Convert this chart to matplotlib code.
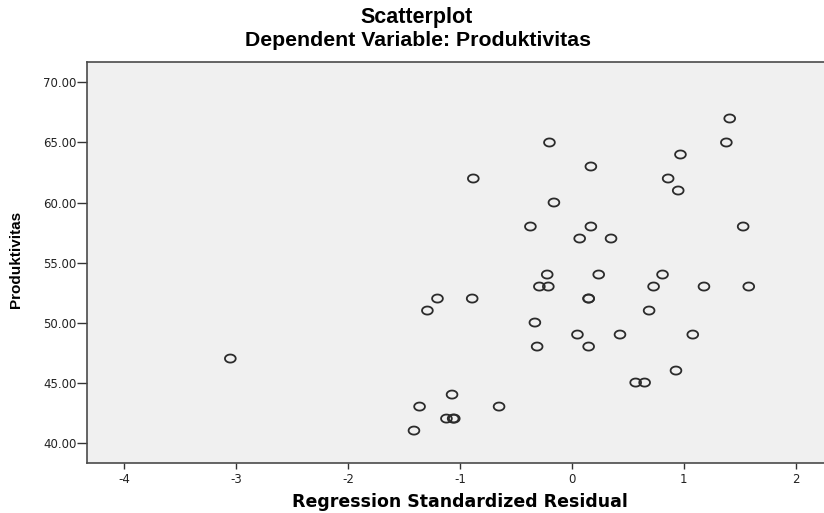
import numpy as np
import matplotlib
matplotlib.use("Agg")
import matplotlib.pyplot as plt
from matplotlib.path import Path
from matplotlib.ticker import FormatStrFormatter

plt.rcParams["axes.unicode_minus"] = False

# regression standardized residual vs Produktivitas
residual = [1.41, -0.20, 1.38, 0.97, 0.17, -0.88, 0.86, 0.95, -0.16,
            -0.37, 0.17, 1.53, 0.07, 0.35, -0.22, 0.24, 0.81,
            -0.29, -0.21, 0.73, 1.18, 1.58, -1.20, -0.89, 0.15, 0.15,
            -1.29, 0.69, -0.33, 0.05, 0.43, 1.08, -0.31, 0.15, -3.05,
            0.93, 0.57, 0.65, -1.07, -1.36, -0.65, -1.12, -1.06, -1.05, -1.41]
produktivitas = [67, 65, 65, 64, 63, 62, 62, 61, 60,
                 58, 58, 58, 57, 57, 54, 54, 54,
                 53, 53, 53, 53, 53, 52, 52, 52, 52,
                 51, 51, 50, 49, 49, 49, 48, 48, 47,
                 46, 45, 45, 44, 43, 43, 42, 42, 42, 41]

x_ticks = [-4, -3, -2, -1, 0, 1, 2]
y_ticks = [40, 45, 50, 55, 60, 65, 70]

# slightly flattened circle like SPSS markers
t = np.linspace(0, 2 * np.pi, 40)
oval = Path(np.column_stack([np.cos(t), 0.75 * np.sin(t)]), closed=True)

fig = plt.figure(figsize=(8.24, 5.13), dpi=100)
ax = fig.add_axes([0.1056, 0.0975, 0.905, 0.7815])
ax.set_facecolor("#f0f0f0")

ax.scatter(residual, produktivitas, marker=oval, s=60, facecolors="none",
           edgecolors="#2b2b2b", linewidths=1.3, zorder=3)

ax.set_xlim(-4.33, 2.33)
ax.set_ylim(38.3, 71.7)
ax.set_xticks(x_ticks)
ax.set_yticks(y_ticks)
ax.yaxis.set_major_formatter(FormatStrFormatter("%.2f"))
ax.tick_params(direction="out", width=1, color="#333333",
               labelsize=8.5, labelcolor="#222222")
ax.tick_params(axis="y", length=7, pad=0.5)
ax.tick_params(axis="x", length=4.5, pad=3)

for side in ["left", "bottom", "top"]:
    ax.spines[side].set_color("#4a4a4a")
    ax.spines[side].set_linewidth(1.2)
ax.spines["right"].set_visible(False)

fig.text(460 / 824, 1 - 502 / 513, "Regression Standardized Residual",
         ha="center", va="center", fontsize=12.5, fontweight="bold")
fig.text(16.5 / 824, 0.494, "Produktivitas", rotation=90, ha="center",
         va="center", fontsize=11, fontweight="bold", family="Liberation Sans")

fig.text(0.505, 0.955, "Scatterplot", ha="center", va="baseline",
         fontsize=15.5, fontweight="bold", family="Liberation Sans")
fig.text(0.507, 0.910, "Dependent Variable: Produktivitas", ha="center",
         va="baseline", fontsize=15.3, fontweight="bold", family="Liberation Sans")

fig.savefig("out.png", dpi=100)
